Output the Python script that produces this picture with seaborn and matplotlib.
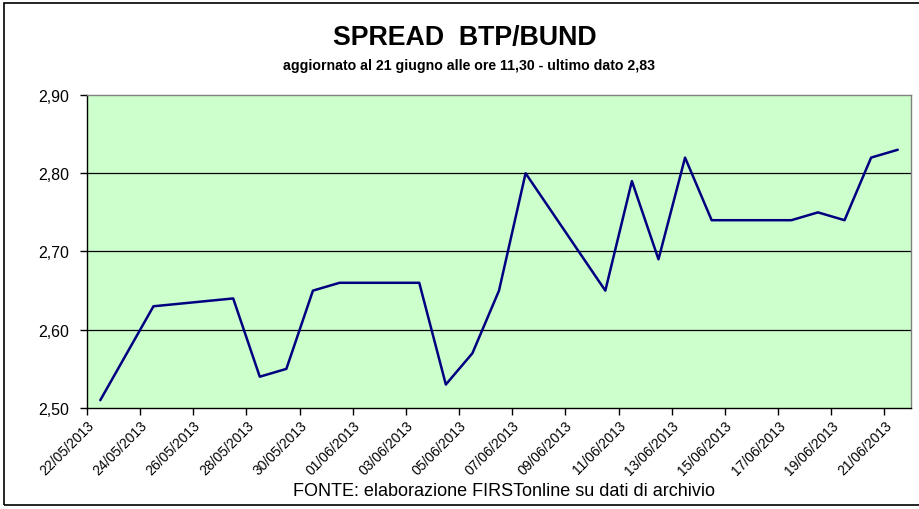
import pandas as pd
import numpy as np
import matplotlib
matplotlib.use("Agg")
import matplotlib.pyplot as plt
import seaborn as sns

# Data (business days only)
dates = ["2013-05-22", "2013-05-23", "2013-05-24", "2013-05-27", "2013-05-28",
         "2013-05-29", "2013-05-30", "2013-05-31", "2013-06-03", "2013-06-04",
         "2013-06-05", "2013-06-06", "2013-06-07", "2013-06-10", "2013-06-11",
         "2013-06-12", "2013-06-13", "2013-06-14", "2013-06-17", "2013-06-18",
         "2013-06-19", "2013-06-20", "2013-06-21"]
spread = [2.51, 2.57, 2.63, 2.64, 2.54,
          2.55, 2.65, 2.66, 2.66, 2.53,
          2.57, 2.65, 2.80, 2.65, 2.79,
          2.69, 2.82, 2.74, 2.74, 2.75,
          2.74, 2.82, 2.83]

tick_dates = pd.date_range("2013-05-22", "2013-06-21", freq="2D")
tick_labels = [d.strftime("%d/%m/%Y") for d in tick_dates]
y_ticks = [2.50, 2.60, 2.70, 2.80, 2.90]
y_tick_labels = ["2,50", "2,60", "2,70", "2,80", "2,90"]

title = "SPREAD  BTP/BUND"
subtitle = "aggiornato al 21 giugno alle ore 11,30 - ultimo dato 2,83"
source = "FONTE: elaborazione FIRSTonline su dati di archivio"

df = pd.DataFrame({
    "data": pd.to_datetime(dates) + pd.Timedelta(hours=12),  # Excel puts points mid-day
    "spread": spread,
})

sns.set_style("white")
plt.rcParams["font.family"] = ["Liberation Sans", "DejaVu Sans"]
plt.rcParams["text.color"] = "black"
plt.rcParams["xtick.color"] = "black"
plt.rcParams["ytick.color"] = "black"

fig = plt.figure(figsize=(9.2, 5.1), dpi=100)
ax = fig.add_axes([87 / 920, 1 - 409 / 510, (911 - 87) / 920, (409 - 96) / 510])
ax.set_facecolor("#CCFFCC")

# Horizontal gridlines
for yv in y_ticks[1:-1]:
    ax.axhline(yv, color="black", linewidth=0.9, zorder=1)

sns.lineplot(data=df, x="data", y="spread", color="#000080",
             linewidth=1.8, ax=ax, zorder=3)

ax.set_xlim(pd.Timestamp("2013-05-22"), pd.Timestamp("2013-06-22"))
ax.set_ylim(2.50, 2.90)

ax.set_xticks(tick_dates)
ax.set_xticklabels(tick_labels, rotation=45, ha="right",
                   rotation_mode="anchor", fontsize=10)
ax.set_yticks(y_ticks)
ax.set_yticklabels(y_tick_labels, fontsize=11.5)
ax.set_xlabel("")
ax.set_ylabel("")

ax.tick_params(axis="both", direction="out", length=5, width=1, color="black",
               left=True, bottom=True)
ax.tick_params(axis="x", pad=2)
ax.tick_params(axis="y", pad=8)

for side in ["left", "bottom"]:
    ax.spines[side].set_color("black")
    ax.spines[side].set_linewidth(1)
for side in ["top", "right"]:
    ax.spines[side].set_color("#808080")
    ax.spines[side].set_linewidth(1)

fig.text(465 / 920, 1 - 38 / 510, title, ha="center", va="center",
         fontsize=19.3, fontweight="bold")
fig.text(469 / 920, 1 - 66 / 510, subtitle, ha="center", va="center",
         fontsize=10.2, fontweight="bold")
fig.text(504 / 920, 1 - 492 / 510, source, ha="center", va="center",
         fontsize=13)

# Outer chart frame
frame = plt.Rectangle((4 / 920, 4 / 510), 1.0, 502 / 510, transform=fig.transFigure,
                      fill=False, edgecolor="black", linewidth=1.2)
fig.patches.append(frame)

fig.savefig("out.png", dpi=100)
